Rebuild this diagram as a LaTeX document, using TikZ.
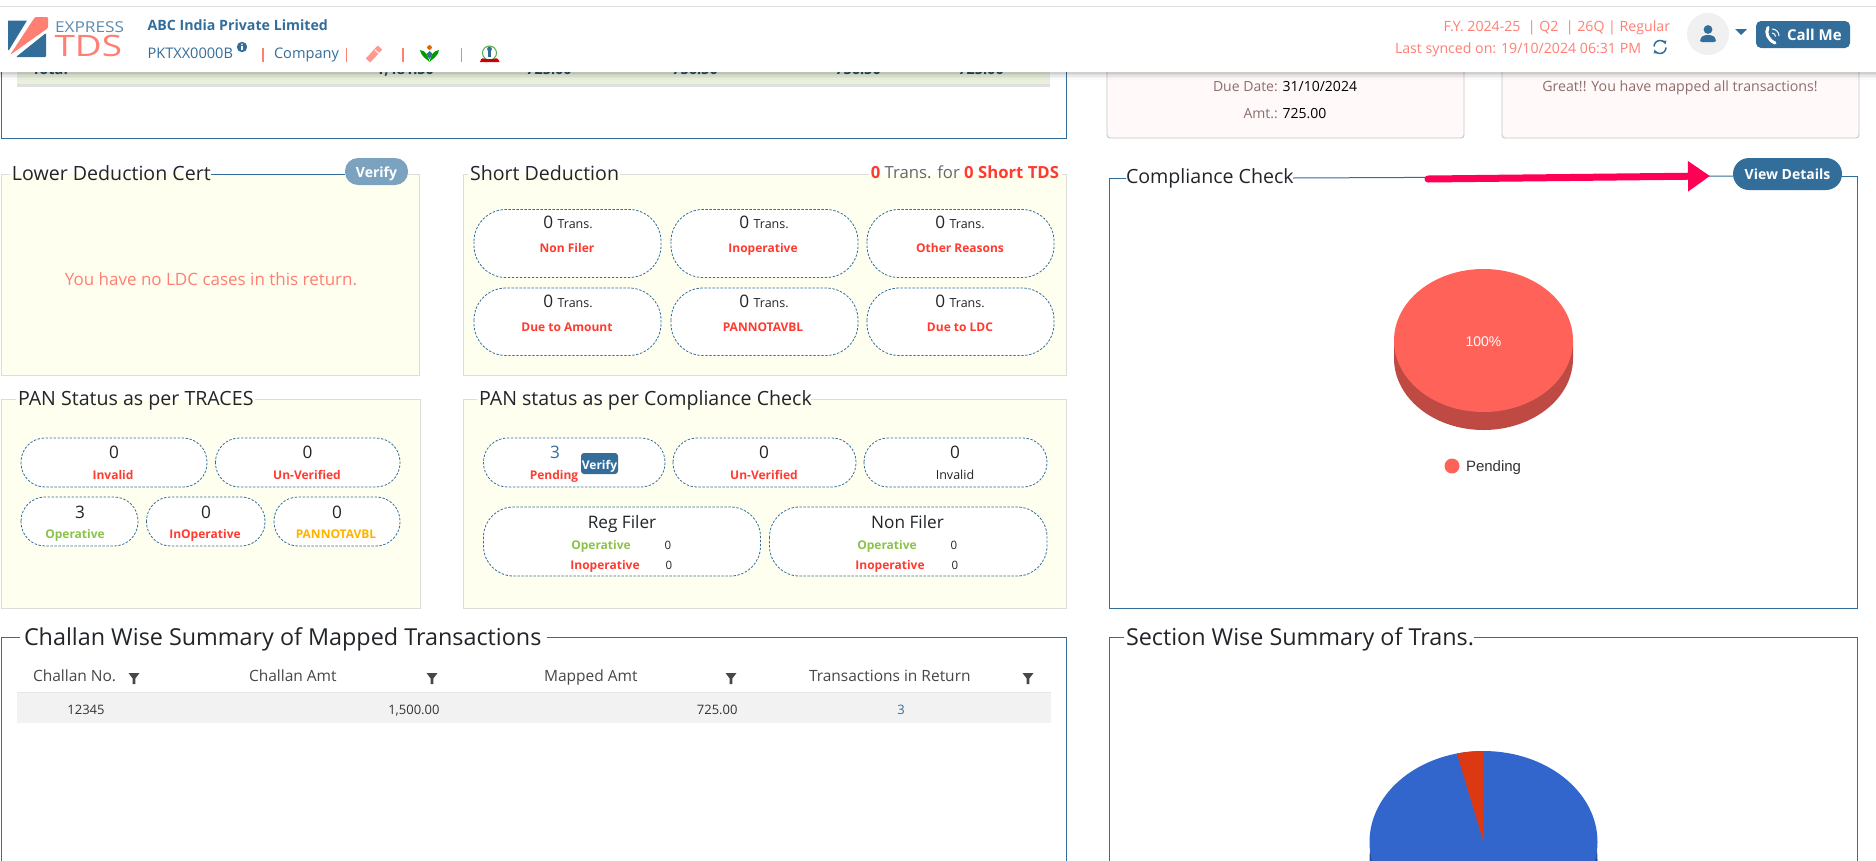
\documentclass[tikz,border=0pt]{standalone}
\usepackage{fontspec}
\setmainfont{Open Sans}
\newfontfamily\arialf{Liberation Sans}
\usetikzlibrary{arrows.meta}
\definecolor{brand}{HTML}{336E9B}
\definecolor{coral}{HTML}{FF7F73}
\definecolor{redt}{HTML}{FF3B30}
\definecolor{greent}{HTML}{8BC34A}
\definecolor{ambert}{HTML}{FFB300}
\definecolor{ink}{HTML}{212529}
\definecolor{cream}{HTML}{FEFFEF}
\definecolor{paneledge}{HTML}{DDDDD8}
\definecolor{cardtext}{HTML}{8D6E6E}
\definecolor{pinkcard}{HTML}{FFF9F9}
\definecolor{pie}{HTML}{FF6259}
\definecolor{piedark}{HTML}{BF4A43}
\definecolor{arrowc}{HTML}{FF0055}
\definecolor{pieblue}{HTML}{3366CC}
\definecolor{piebluedk}{HTML}{264D99}
\definecolor{piered}{HTML}{DC3912}
\definecolor{totalg}{HTML}{E9F1DD}
\definecolor{paleb}{HTML}{7BA3BF}
\newcommand{\fs}[1]{\fontsize{#1}{#1}\selectfont}
\tikzset{
  txt/.style={inner sep=0pt,outer sep=0pt,anchor=mid,yshift=-2.6pt},
  ttl/.style={txt,anchor=mid west,text=ink,font=\fs{19.6}},
  bigttl/.style={txt,anchor=mid west,text=ink,font=\fs{23.35}},
  num/.style={txt,text=ink,font=\fs{17.2}},
  lab/.style={txt,text=redt,font=\bfseries\fs{12}},
  labg/.style={lab,text=greent},
  laba/.style={lab,text=ambert},
  pillbox/.style={draw=brand,fill=white,line width=0.8pt,dash pattern=on 2.4pt off 1.6pt},
  hdr/.style={txt,text=brand,font=\fs{14.6}},
  hdrr/.style={txt,text=coral,font=\fs{14.15}},
  colh/.style={txt,text=black!72,font=\fs{15.5}},
  cell/.style={txt,text=black!80,font=\fs{13}},
  sep/.style={draw=coral,line width=1.1pt},
  btn/.style={fill=brand},
  card/.style={draw=black!22,fill=pinkcard,line width=0.9pt,rounded corners=3pt},
}
\newcommand{\filtericon}[2]{\fill[black!72] (#1-5.5,#2-5) -- (#1+5.5,#2-5) -- (#1+1.3,#2+0.5) -- (#1+1.3,#2+6) -- (#1-1.3,#2+6) -- (#1-1.3,#2+0.5) -- cycle;}
\begin{document}
\begin{tikzpicture}[x=1pt,y=-1pt]
\useasboundingbox (0,0) rectangle (1876,860);
\clip (0,0) rectangle (1876,860);
\fill[white] (0,0) rectangle (1876,860);

% --- top-left panel, cut by the header
\draw[brand,line width=1pt] (1.5,60) -- (1.5,138) -- (1066,138) -- (1066,60);
\fill[black!12] (17,84) rectangle (1050,86.5);
\fill[totalg] (17,60) rectangle (1050,84);
\foreach \nm/\xx/\vv in {tot/50/Total,ta/405/{1,481.50},tb/549/725.00,tc/695/756.50,td/858/756.50,te/981/725.00}{
  \node[txt,text=brand!70!black,font=\bfseries\fs{14.5}] (\nm) at (\xx,69.5) {\vv};
}
% --- top-right cards
\draw[card] (1107,50) rectangle (1464,138);
\draw[card] (1502,50) rectangle (1859,138);
\node[txt,font=\fs{14}] (due) at (1285,86) {\textcolor{cardtext}{Due Date:} \textcolor{black}{31/10/2024}};
\node[txt,font=\fs{14}] (amt) at (1285,113) {\textcolor{cardtext}{Amt.:} \textcolor{black}{725.00}};
\node[txt,text=cardtext,font=\fs{14.2}] (great) at (1680,86) {Great!! You have mapped all transactions!};

% --- header
\foreach \i/\o in {0/.06,1.5/.05,3/.04,4.5/.03,6/.015}{\fill[black,opacity=\o] (0,72) rectangle (1876,72+\i+1.5);}
\fill[white] (0,7) rectangle (1876,72);
\draw[black!12,line width=1.2pt] (0,6.5) -- (1876,6.5);
% logo
\fill[brand] (8,20.5) -- (27,20.5) -- (9,50) -- (8,50) -- cycle;
\fill[brand,rounded corners=1pt] (46,33) -- (46,57) -- (16,57) -- cycle;
\fill[coral,rounded corners=1pt] (35,17) -- (48,17) -- (48,28) -- (10,55) -- cycle;
\node[txt,anchor=mid west,text=brand!80!white,font=\fs{15}] (express) at (55,27.5) {\scalebox{1.15}[1]{EXPRESS}};
\node[txt,anchor=mid west,text=coral,font=\fs{29.5}] (tds) at (54.5,51) {\scalebox{1.25}[1]{TDS}};
\node[hdr,anchor=mid west,font=\bfseries\fs{14.2}] (abc) at (147.5,25) {ABC India Private Limited};
\node[hdr,anchor=mid west] (pan) at (147.5,53) {PKTXX0000B};
\fill[brand] (242,47) circle (5.2);
\fill[white] (241.2,46) rectangle (242.8,50);
\fill[white] (242,44.3) circle (0.9);
\draw[sep] (263,48) -- (263,62);
\node[hdr,anchor=mid west] (comp) at (274,53) {Company};
\draw[sep] (346.5,48) -- (346.5,62);
\draw[coral!80!white,line width=6pt] (368,60.5) -- (380,47.5);
\draw[white,line width=1pt] (375,50) -- (380,54.5);
\draw[sep] (403,48) -- (403,62);
% flower
\fill[orange!85!black] (429.5,47.5) circle (2.4);
\fill[brand] (429.5,51) -- (426.5,54) -- (429.5,59) -- (432.5,54) -- cycle;
\fill[green!60!black] (420,50) .. controls (422,58) and (426,58) .. (429.5,62) .. controls (428,55) and (426,51) .. (420,50) -- cycle;
\fill[green!60!black] (439,50) .. controls (437,58) and (433,58) .. (429.5,62) .. controls (431,55) and (433,51) .. (439,50) -- cycle;
\draw[sep] (461.5,48) -- (461.5,62);
% emblem
\draw[green!55!black!70,line width=1pt] (489.5,53) circle (7);
\fill[brand] (488,48) rectangle (491,57);
\fill[brand] (489.5,49) circle (2.4);
\fill[red!80!black] (480,62) .. controls (481,57) and (484,58) .. (486,59) -- (493,59) .. controls (495,58) and (498,57) .. (499.5,62) -- cycle;
% right side of header
\node[hdrr,anchor=mid east] (fy) at (1670,26) {F.Y. 2024-25\ \ | Q2\ \ | 26Q | Regular};
\node[hdrr,anchor=mid east] (sync) at (1641,48) {Last synced on: 19/10/2024 06:31 PM};
\draw[brand,line width=1.5pt,-{Latex[length=3.5pt,width=4.5pt]}] (1654,46.5) arc[start angle=180,end angle=340,radius=6];
\draw[brand,line width=1.5pt,-{Latex[length=3.5pt,width=4.5pt]}] (1666,47.5) arc[start angle=0,end angle=160,radius=6];
\fill[black!6] (1708,34) circle (21);
\fill[brand] (1708,29.5) circle (4.4);
\fill[brand,rounded corners=2pt] (1700,42) -- (1700,38.5) -- (1704,35) -- (1712,35) -- (1716,38.5) -- (1716,42) -- cycle;
\fill[brand] (1735,29) -- (1747,29) -- (1741,35) -- cycle;
\fill[btn,rounded corners=5pt] (1756,21) rectangle (1850,48);
\draw[white,line width=3pt,line cap=round] (1768,27.5) .. controls (1765,33) and (1768,40) .. (1775,43);
\draw[white,line width=1pt] (1772,33) arc[start angle=-90,end angle=0,radius=3.5];
\draw[white,line width=1pt] (1772,29) arc[start angle=-90,end angle=0,radius=7];
\node[txt,anchor=mid west,text=white,font=\bfseries\fs{15}] (call) at (1787,35) {Call Me};

% --- panels
% Lower Deduction Cert
\fill[cream] (1,174) rectangle (419,375);
\draw[paneledge,line width=1pt] (10,174) -- (1,174) -- (1,375) -- (419,375) -- (419,174) -- (405,174);
\draw[brand,line width=1pt] (211,174) -- (345,174);
\node[ttl] (ldc) at (12,175) {Lower Deduction Cert};
\fill[paleb,rounded corners=13pt] (345,158) rectangle (408,185);
\node[txt,text=white,font=\bfseries\fs{14}] (ldcv) at (376.5,172) {Verify};
\node[txt,text=coral,font=\fs{17}] (ldcmsg) at (211,280.5) {You have no LDC cases in this return.};

% Short Deduction
\fill[cream] (463.5,174) rectangle (1066,375);
\draw[paneledge,line width=1pt] (468,174) -- (463.5,174) -- (463.5,375) -- (1066,375) -- (1066,174) -- (1062,174);
\draw[paneledge,line width=1pt] (620,174) -- (869,174);
\node[ttl] (sd) at (470,175) {Short Deduction};
\node[txt,anchor=mid east,font=\fs{16.7}] (sdr) at (1059,173) {\textcolor{redt}{\bfseries 0} \textcolor{black!60}{Trans. for} \textcolor{redt}{\bfseries 0 Short TDS}};
\draw[pillbox,rounded corners=32pt] (474,209.5) rectangle (661,277.5);
\draw[pillbox,rounded corners=32pt] (671,209.5) rectangle (858,277.5);
\draw[pillbox,rounded corners=32pt] (867,209.5) rectangle (1054,277.5);
\draw[pillbox,rounded corners=32pt] (474,288) rectangle (661,355.5);
\draw[pillbox,rounded corners=32pt] (671,288) rectangle (858,355.5);
\draw[pillbox,rounded corners=32pt] (867,288) rectangle (1054,355.5);
\node[num] (s1) at (568,223.5) {0 {\fs{12.5}Trans.}};
\node[num] (s2) at (764,223.5) {0 {\fs{12.5}Trans.}};
\node[num] (s3) at (960,223.5) {0 {\fs{12.5}Trans.}};
\node[num] (s4) at (568,302.5) {0 {\fs{12.5}Trans.}};
\node[num] (s5) at (764,302.5) {0 {\fs{12.5}Trans.}};
\node[num] (s6) at (960,302.5) {0 {\fs{12.5}Trans.}};
\node[lab] (l1) at (567,247.5) {Non Filer};
\node[lab] (l2) at (763,247.5) {Inoperative};
\node[lab] (l3) at (960,247.5) {Other Reasons};
\node[lab] (l4) at (567,326.5) {Due to Amount};
\node[lab] (l5) at (763,326.5) {PANNOTAVBL};
\node[lab] (l6) at (960,326.5) {Due to LDC};

% PAN Status as per TRACES
\fill[cream] (1.5,399.5) rectangle (420,608);
\draw[paneledge,line width=1pt] (16,399.5) -- (1.5,399.5) -- (1.5,608) -- (420,608) -- (420,399.5) -- (255,399.5);
\node[ttl] (ptr) at (18,400) {PAN Status as per TRACES};
\draw[pillbox,rounded corners=24pt] (21,438) rectangle (207,487);
\draw[pillbox,rounded corners=24pt] (215.5,438) rectangle (400,487);
\draw[pillbox,rounded corners=24pt] (21,497) rectangle (138,546);
\draw[pillbox,rounded corners=24pt] (146.5,497) rectangle (265,546);
\draw[pillbox,rounded corners=24pt] (274,497) rectangle (400,546);
\node[num] (t1) at (114,453) {0};
\node[num] (t2) at (307.5,453) {0};
\node[num] (t3) at (80,513) {3};
\node[num] (t4) at (206,513) {0};
\node[num] (t5) at (337,513) {0};
\node[lab] (tl1) at (113,474) {Invalid};
\node[lab] (tl2) at (307,474) {Un-Verified};
\node[labg] (tl3) at (75,533) {Operative};
\node[lab] (tl4) at (205,533) {InOperative};
\node[laba] (tl5) at (336,533) {PANNOTAVBL};

% PAN status as per Compliance Check
\fill[cream] (463.5,399.5) rectangle (1066,608);
\draw[paneledge,line width=1pt] (477,399.5) -- (463.5,399.5) -- (463.5,608) -- (1066,608) -- (1066,399.5) -- (811,399.5);
\node[ttl] (pcc) at (479,400) {PAN status as per Compliance Check};
\draw[pillbox,rounded corners=24pt] (483.5,438) rectangle (665,487);
\draw[pillbox,rounded corners=24pt] (673,438) rectangle (856,487);
\draw[pillbox,rounded corners=24pt] (864,438) rectangle (1047,487);
\draw[pillbox,rounded corners=30pt] (483.5,507) rectangle (760.5,576);
\draw[pillbox,rounded corners=30pt] (769.5,507) rectangle (1047,576);
\node[num,text=brand] (c1) at (555,453) {3};
\node[lab] (cl1) at (554,474) {Pending};
\fill[btn,rounded corners=3pt] (581,453) rectangle (618,474);
\node[txt,text=white,font=\bfseries\fs{12}] (cv) at (599.5,464) {Verify};
\node[num] (c2) at (764,453) {0};
\node[lab] (cl2) at (764,474) {Un-Verified};
\node[num] (c3) at (955,453) {0};
\node[txt,text=ink,font=\fs{12.5}] (cl3) at (955,474) {Invalid};
\node[num] (rf) at (622,523.5) {Reg Filer};
\node[labg] (rf1) at (601,544) {Operative};
\node[txt,text=ink,font=\fs{11.5}] (rf1n) at (668,544) {0};
\node[lab] (rf2) at (605,564) {Inoperative};
\node[txt,text=ink,font=\fs{11.5}] (rf2n) at (669,564) {0};
\node[num] (nf) at (907.5,523.5) {Non Filer};
\node[labg] (nf1) at (887,544) {Operative};
\node[txt,text=ink,font=\fs{11.5}] (nf1n) at (954,544) {0};
\node[lab] (nf2) at (890,564) {Inoperative};
\node[txt,text=ink,font=\fs{11.5}] (nf2n) at (955,564) {0};

% Compliance Check
\draw[brand,line width=1pt] (1126,178) -- (1109.5,178) -- (1109.5,608) -- (1857,608) -- (1857,176) -- (1842,176);
\draw[brand,line width=1pt] (1293,178) -- (1733,176);
\node[ttl] (cc) at (1126,178) {Compliance Check};
\fill[btn,rounded corners=16pt] (1733,158) rectangle (1842,190);
\node[txt,text=white,font=\bfseries\fs{14}] (vd) at (1787.5,174.5) {View Details};
\coordinate (arrowstart) at (1428,179);
\coordinate (arrowtip) at (1710,176);
\draw[arrowc,line width=7pt,line cap=round,-{Triangle[length=22pt,width=29pt]}] (arrowstart) -- (arrowtip);
\fill[piedark] (1394,340.5) -- (1394,358.5) arc[start angle=180,end angle=0,x radius=89.5,y radius=71.5] -- (1573,340.5) -- cycle;
\fill[pie] (1483.5,340.5) ellipse[x radius=89.5,y radius=71.5];
\node[txt,text=white,font=\arialf\fs{14}] (pct) at (1483.5,341) {100\%};
\fill[pie] (1452,466) circle (7.5);
\node[txt,anchor=mid west,text=black!80,font=\arialf\fs{15}] (pend) at (1466,466) {Pending};

% Challan table
\draw[brand,line width=1pt] (20,637) -- (1.5,637) -- (1.5,870);
\draw[brand,line width=1pt] (547,637) -- (1066,637) -- (1066,870);
\node[bigttl] (chal) at (24,640) {Challan Wise Summary of Mapped Transactions};
\node[colh,anchor=mid west] (h1) at (33,676.5) {Challan No.};
\node[colh,anchor=mid west] (h2) at (249,676.5) {Challan Amt};
\node[colh,anchor=mid west] (h3) at (544,676.5) {Mapped Amt};
\node[colh,anchor=mid west] (h4) at (809,676.5) {Transactions in Return};
\filtericon{134}{678}
\filtericon{432}{678}
\filtericon{731}{678}
\filtericon{1028}{678}
\fill[black!5] (17,692) rectangle (1051,723);
\draw[black!10,line width=1pt] (17,692) -- (1051,692);
\node[cell] (r1) at (86,709.5) {12345};
\node[cell,anchor=mid east] (r2) at (439.5,709.5) {1,500.00};
\node[cell,anchor=mid east] (r3) at (737.5,709.5) {725.00};
\node[cell,text=brand] (r4) at (901,709.5) {3};

% Section summary
\draw[brand,line width=1pt] (1124,637) -- (1109.5,637) -- (1109.5,870);
\draw[brand,line width=1pt] (1474,637) -- (1857,637) -- (1857,870);
\node[bigttl] (sec) at (1126,640) {Section Wise Summary of Trans.};
\fill[piebluedk] (1483.5,860) ellipse[x radius=114,y radius=91];
\fill[pieblue] (1483.5,842) ellipse[x radius=114,y radius=91];
\fill[piered] (1483.5,842) -- (1483.5,751) arc[start angle=-90,end angle=-103.5,x radius=114,y radius=91] -- cycle;
\end{tikzpicture}
\end{document}
